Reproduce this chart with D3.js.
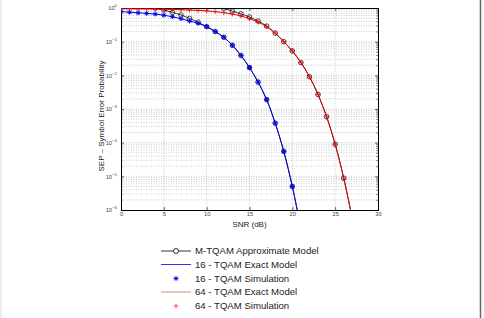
<!DOCTYPE html>
<html>
<head>
<meta charset="utf-8">
<script src="https://cdn.jsdelivr.net/npm/d3@7"></script>
<style>
  body { margin: 0; background: #fff; }
  text { font-family: "Liberation Sans", Arial, sans-serif; }
</style>
</head>
<body>
<div id="chart-area"></div>
<script>
// SNR (dB) for the simulated / model points
var snr = [0, 1, 2, 3, 4, 5, 6, 7, 8, 9, 10, 11, 12, 13, 14, 15, 16, 17, 18, 19, 20, 21, 22, 23, 24, 25, 26, 27];

// 16-TQAM exact / simulation (SNR 0..21)
var sep16 = [0.78, 0.75, 0.72, 0.69, 0.66, 0.61, 0.55, 0.48, 0.41, 0.35, 0.28, 0.2, 0.135, 0.078, 0.039, 0.017,
    0.0063, 0.0019, 3.8e-4, 5.5e-5, 5e-6, 2.8e-7];

// 64-TQAM exact / simulation (SNR 0..27)
var sep64 = [0.95, 0.95, 0.94, 0.94, 0.93, 0.92, 0.91, 0.89, 0.87, 0.85, 0.82, 0.78, 0.73, 0.66, 0.58, 0.48,
    0.38, 0.28, 0.18, 0.1, 0.053, 0.024, 0.0091, 0.0027, 5.9e-4, 9e-5, 8.8e-6, 5.6e-7];

// M-TQAM approximate model (values above 1 are cut by the axes)
var approx16 = [1.75, 1.55, 1.35, 1.17, 1.0, 0.87, 0.74, 0.62, 0.49, 0.38, 0.28, 0.2, 0.135, 0.078, 0.039, 0.017,
    0.0063, 0.0019, 3.8e-4, 5.5e-5, 5e-6, 2.8e-7];
var approx64 = [3.2, 2.9, 2.6, 2.35, 2.15, 1.95, 1.8, 1.65, 1.52, 1.4, 1.28, 1.13, 0.97, 0.81, 0.67, 0.54,
    0.41, 0.29, 0.18, 0.1, 0.053, 0.024, 0.0091, 0.0027, 5.9e-4, 9e-5, 8.8e-6, 5.6e-7];

var xTicks = [0, 5, 10, 15, 20, 25, 30];
var yExponents = [0, -1, -2, -3, -4, -5, -6];

var legendLabels = ["M-TQAM Approximate Model", "16 - TQAM Exact Model", "16 - TQAM Simulation",
    "64 - TQAM Exact Model", "64 - TQAM Simulation"];

var width = 484;
var height = 318;
var plotL = 121, plotR = 378, plotT = 8, plotB = 210;

var svg = d3.select("#chart-area")
    .append("svg")
    .attr("width", width)
    .attr("height", height);

// thin frame lines at the image edges
svg.append("line").attr("x1", 1).attr("x2", 1).attr("y1", 0).attr("y2", height)
    .attr("stroke", "#ddd").attr("stroke-width", 1);
svg.append("line").attr("x1", 480.5).attr("x2", 480.5).attr("y1", 0).attr("y2", height)
    .attr("stroke", "#666").attr("stroke-width", 1.5);

var x = d3.scaleLinear().domain([0, 30]).range([plotL, plotR]);
var y = d3.scaleLog().domain([1e-6, 1]).range([plotB, plotT]);

// grid
var grid = svg.append("g");
xTicks.slice(1, -1).forEach(function(t) {
    grid.append("line")
        .attr("x1", x(t)).attr("x2", x(t)).attr("y1", plotT).attr("y2", plotB)
        .attr("stroke", "#aaa").attr("stroke-width", 0.6).attr("stroke-dasharray", "1,1.5");
});
yExponents.forEach(function(e) {
    if (e === 0) return;
    for (var m = 1; m <= 9; m++) {
        var v = m * Math.pow(10, e);
        if (m === 1 && e === -6) continue;
        grid.append("line")
            .attr("x1", plotL).attr("x2", plotR).attr("y1", y(v)).attr("y2", y(v))
            .attr("stroke", "#aaa").attr("stroke-width", 0.6).attr("stroke-dasharray", "1,1.5");
    }
});

// axes
var xAxis = d3.axisBottom(x).tickValues(xTicks).tickSize(-3).tickPadding(3);
var gx = svg.append("g").attr("transform", "translate(0," + plotB + ")").call(xAxis);
var xAxisTop = d3.axisTop(x).tickValues(xTicks).tickSize(-3).tickFormat("");
svg.append("g").attr("transform", "translate(0," + plotT + ")").call(xAxisTop);

var yMajor = yExponents.map(function(e) { return Math.pow(10, e); });
var yMinor = [];
yExponents.forEach(function(e) {
    if (e === 0) return;
    for (var m = 2; m <= 9; m++) yMinor.push(m * Math.pow(10, e));
});
var yAxis = d3.axisLeft(y).tickValues(yMajor).tickSize(-3).tickFormat("");
svg.append("g").attr("transform", "translate(" + plotL + ",0)").call(yAxis);
svg.append("g").attr("transform", "translate(" + plotL + ",0)")
    .call(d3.axisLeft(y).tickValues(yMinor).tickSize(-1.5).tickFormat(""));
svg.append("g").attr("transform", "translate(" + plotR + ",0)")
    .call(d3.axisRight(y).tickValues(yMajor).tickSize(-3).tickFormat(""));
svg.append("g").attr("transform", "translate(" + plotR + ",0)")
    .call(d3.axisRight(y).tickValues(yMinor).tickSize(-1.5).tickFormat(""));

svg.selectAll(".domain").attr("stroke", "#000").attr("stroke-width", 1);
svg.selectAll(".tick line").attr("stroke", "#000").attr("stroke-width", 0.6);
gx.selectAll("text").attr("font-size", 5.8).attr("fill", "#444").attr("dy", "0.6em");

// y tick labels 10^e
yExponents.forEach(function(e) {
    var t = svg.append("text")
        .attr("x", plotL - 4)
        .attr("y", y(Math.pow(10, e)) + 2.3)
        .attr("text-anchor", "end")
        .attr("font-size", 5.8)
        .attr("fill", "#444");
    t.append("tspan").text("10");
    t.append("tspan").attr("dy", -3).attr("font-size", 4.3).text(String(e).replace("-", "\u2212"));
});

// axis labels
svg.append("text")
    .attr("x", (plotL + plotR) / 2)
    .attr("y", 226.5)
    .attr("text-anchor", "middle")
    .attr("font-size", 8)
    .attr("fill", "#222")
    .text("SNR (dB)");
svg.append("text")
    .attr("transform", "translate(104,116) rotate(-90)")
    .attr("text-anchor", "middle")
    .attr("font-size", 8)
    .attr("fill", "#222")
    .text("SEP \u2013 Symbol Error Probability");

// clipped data area
svg.append("clipPath").attr("id", "clip")
    .append("rect").attr("x", plotL).attr("y", plotT).attr("width", plotR - plotL).attr("height", plotB - plotT);
var plot = svg.append("g").attr("clip-path", "url(#clip)");

var line = d3.line()
    .x(function(d) { return x(d[0]); })
    .y(function(d) { return y(d[1]); })
    .curve(d3.curveCatmullRom);

function pairs(values) {
    return values.map(function(v, i) { return [snr[i], v]; });
}

function starPath(cx, cy, r) {
    var d = r * 0.72;
    return "M" + (cx - r) + "," + cy + "H" + (cx + r) +
        "M" + cx + "," + (cy - r) + "V" + (cy + r) +
        "M" + (cx - d) + "," + (cy - d) + "L" + (cx + d) + "," + (cy + d) +
        "M" + (cx - d) + "," + (cy + d) + "L" + (cx + d) + "," + (cy - d);
}
function plusPath(cx, cy, r) {
    return "M" + (cx - r) + "," + cy + "H" + (cx + r) + "M" + cx + "," + (cy - r) + "V" + (cy + r);
}

var blackData = [pairs(approx16), pairs(approx64)];
blackData.forEach(function(data) {
    plot.append("path")
        .datum(data)
        .attr("fill", "none")
        .attr("stroke", "#000")
        .attr("stroke-width", 0.8)
        .attr("d", line);
    plot.selectAll(null)
        .data(data)
        .enter()
        .append("circle")
        .attr("cx", function(d) { return x(d[0]); })
        .attr("cy", function(d) { return y(d[1]); })
        .attr("r", 2.3)
        .attr("fill", "none")
        .attr("stroke", "#000")
        .attr("stroke-width", 0.7);
});

var d16 = pairs(sep16);
var d64 = pairs(sep64);

plot.append("path").datum(d16)
    .attr("fill", "none").attr("stroke", "#0000e0").attr("stroke-width", 1).attr("d", line);
plot.selectAll(null).data(d16).enter().append("path")
    .attr("d", function(d) { return starPath(x(d[0]), y(d[1]), 2.4); })
    .attr("stroke", "#0000ff").attr("stroke-width", 1);

plot.append("path").datum(d64)
    .attr("fill", "none").attr("stroke", "#e00000").attr("stroke-width", 1).attr("d", line);
plot.selectAll(null).data(d64).enter().append("path")
    .attr("d", function(d) { return plusPath(x(d[0]), y(d[1]), 2.4); })
    .attr("stroke", "#ff0000").attr("stroke-width", 0.8);

// legend
var lgX0 = 161, lgX1 = 191, lgText = 195;
var rowY = [251, 264.5, 278.5, 292, 306];
var legend = svg.append("g");

legend.append("line").attr("x1", lgX0).attr("x2", lgX1).attr("y1", rowY[0]).attr("y2", rowY[0])
    .attr("stroke", "#000").attr("stroke-width", 0.8);
legend.append("circle").attr("cx", (lgX0 + lgX1) / 2).attr("cy", rowY[0]).attr("r", 2.5)
    .attr("fill", "#fff").attr("stroke", "#000").attr("stroke-width", 0.8);
legend.append("line").attr("x1", lgX0).attr("x2", lgX1).attr("y1", rowY[1]).attr("y2", rowY[1])
    .attr("stroke", "#0000e0").attr("stroke-width", 0.8);
legend.append("path").attr("d", starPath((lgX0 + lgX1) / 2, rowY[2], 2.4))
    .attr("stroke", "#0000ff").attr("stroke-width", 1);
legend.append("line").attr("x1", lgX0).attr("x2", lgX1).attr("y1", rowY[3]).attr("y2", rowY[3])
    .attr("stroke", "#f06060").attr("stroke-width", 0.8);
legend.append("path").attr("d", plusPath((lgX0 + lgX1) / 2, rowY[4], 2.4))
    .attr("stroke", "#ff2020").attr("stroke-width", 0.8);

legend.selectAll("text")
    .data(legendLabels)
    .enter()
    .append("text")
    .attr("x", lgText)
    .attr("y", function(d, i) { return rowY[i] + 3.4; })
    .attr("font-size", 9.6)
    .attr("fill", "#222")
    .text(function(d) { return d; });
</script>
</body>
</html>
